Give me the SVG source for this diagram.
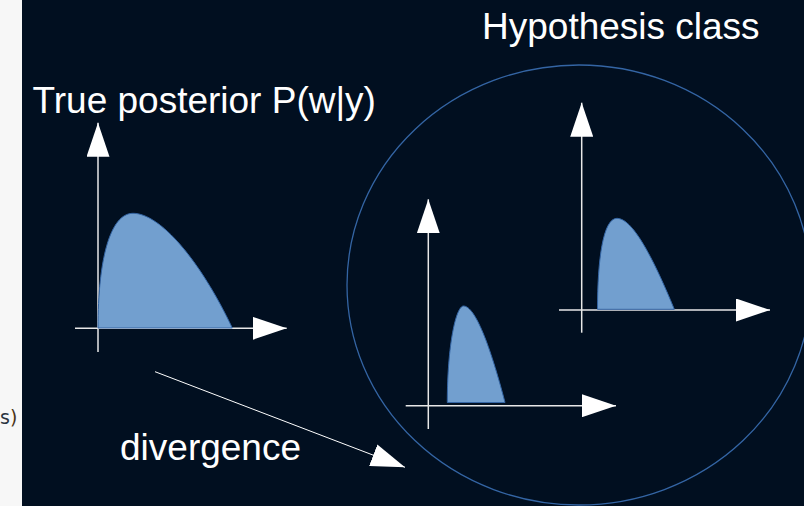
<svg xmlns="http://www.w3.org/2000/svg" width="804" height="506" viewBox="0 0 804 506">
<style>
.bg{fill:#010f20}
.strip{fill:#f7f7f7}
.axis{stroke:#e8e8e8;stroke-width:1.5;fill:none}
.dist{fill:#729fcf;stroke:#3465a4;stroke-width:1}
.lbl{font-family:"Liberation Sans",Arial,sans-serif;font-size:37px;fill:#ffffff}
.conn{stroke:#ffffff;stroke-width:1;fill:none}
.hyp{fill:none;stroke:#3465a4;stroke-width:1.3}
</style>
<defs>
<marker id="ah" viewBox="0 0 34 23" refX="34" refY="11.5" markerWidth="34" markerHeight="23" markerUnits="userSpaceOnUse" orient="auto">
<path d="M0,0 L34,11.5 L0,23 Z" fill="#ffffff"/>
</marker>
</defs>
<rect class="strip" x="0" y="0" width="22" height="506"/>
<rect class="bg" x="22" y="0" width="782" height="506"/>
<text x="0" y="424" font-family="DejaVu Sans, sans-serif" font-size="19" fill="#2a3340">s<tspan fill="#4a3418">)</tspan></text>

<g id="true-posterior">
<text class="lbl" x="32.5" y="112.5">True posterior P(w|y)</text>
<line class="axis" x1="98" y1="352" x2="98" y2="122.7" marker-end="url(#ah)"/>
<line class="axis" x1="75" y1="328.3" x2="286.7" y2="328.3" marker-end="url(#ah)"/>
<path class="dist" d="M98,328 C98,260 110,213.3 133,213.3 C160,213.3 200,260 232.3,328 Z"/>
</g>

<g id="hypothesis-class">
<text class="lbl" x="482" y="38.5">Hypothesis class</text>
<ellipse class="hyp" cx="579" cy="285" rx="232" ry="220"/>
</g>

<g id="hypothesis-1">
<line class="axis" x1="428.3" y1="429" x2="428.3" y2="199.3" marker-end="url(#ah)"/>
<line class="axis" x1="405.7" y1="405.7" x2="616" y2="405.7" marker-end="url(#ah)"/>
<path class="dist" d="M447.3,402.5 C447.3,345 456,306 463.5,306 C475,306 490,345 505,402.5 Z"/>
</g>

<g id="hypothesis-2">
<line class="axis" x1="581.7" y1="332.7" x2="581.7" y2="102.7" marker-end="url(#ah)"/>
<line class="axis" x1="559" y1="310" x2="770" y2="310" marker-end="url(#ah)"/>
<path class="dist" d="M597.5,309.3 C597.5,260 603,218.3 617,218.3 C632,218.3 652,255 674.3,309.3 Z"/>
</g>

<g id="connectors">
<line class="conn" x1="155" y1="371.7" x2="405" y2="467.3" marker-end="url(#ah)"/>
</g>
<g id="divergence-label">
<text class="lbl" x="120" y="460">divergence</text>
</g>
</svg>
